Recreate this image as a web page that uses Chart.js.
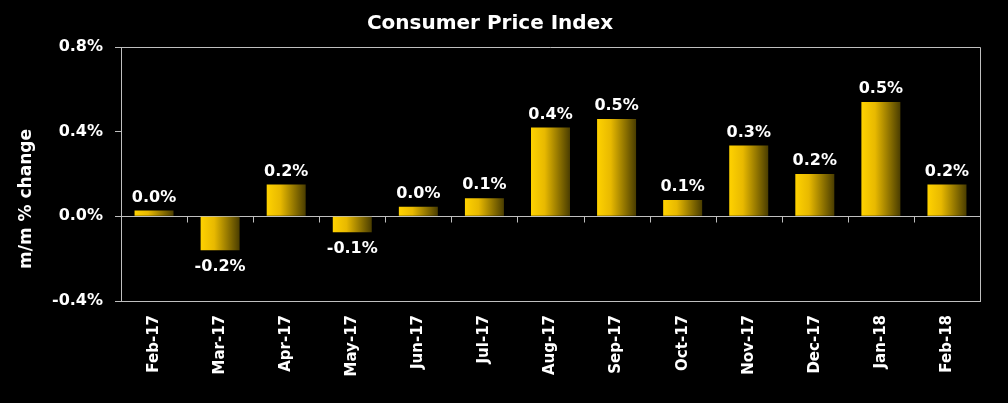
<!DOCTYPE html>
<html>
<head>
<meta charset="utf-8">
<script src="https://cdn.jsdelivr.net/npm/chart.js@4/dist/chart.umd.min.js"></script>
<style>
  html, body { margin: 0; padding: 0; background: #000; }
  #wrap { width: 1008px; height: 403px; }
</style>
</head>
<body>
<div id="wrap"><canvas id="cpi"></canvas></div>
<script>
const months = ['Feb-17', 'Mar-17', 'Apr-17', 'May-17', 'Jun-17', 'Jul-17', 'Aug-17',
                'Sep-17', 'Oct-17', 'Nov-17', 'Dec-17', 'Jan-18', 'Feb-18'];
const cpiChange = [0.028, -0.16, 0.15, -0.075, 0.045, 0.085, 0.42, 0.46, 0.077, 0.335, 0.20, 0.54, 0.15];
const barLabels = ['0.0%', '-0.2%', '0.2%', '-0.1%', '0.0%', '0.1%', '0.4%', '0.5%', '0.1%', '0.3%', '0.2%', '0.5%', '0.2%'];
const yTicks = [-0.4, 0.0, 0.4, 0.8];

const FONT = '"DejaVu Sans", sans-serif';
const LINE = '#bfbfbf';
const BAR_PCT = 0.59;

// horizontal gold gradient for each bar, worked out from the category scale
function barGradient(ctx) {
    const chart = ctx.chart;
    const x = chart.scales.x;
    if (!x || ctx.dataIndex === undefined) return '#f5c400';
    const cx = x.getPixelForValue(ctx.dataIndex);
    const half = x.width / months.length * BAR_PCT / 2;
    if (!isFinite(cx) || !isFinite(half)) return '#f5c400';
    const g = chart.ctx.createLinearGradient(cx - half, 0, cx + half, 0);
    g.addColorStop(0, '#ffd200');
    g.addColorStop(0.35, '#e8b900');
    g.addColorStop(1, '#4a3d00');
    return g;
}

const framePlugin = {
    id: 'frame',
    beforeDatasetsDraw(chart) {
        const { ctx, chartArea: a, scales } = chart;
        ctx.save();
        ctx.strokeStyle = LINE;
        ctx.lineWidth = 1;
        ctx.beginPath();
        ctx.moveTo(a.left, a.top + 0.5);
        ctx.lineTo(a.right + 0.5, a.top + 0.5);
        ctx.lineTo(a.right + 0.5, a.bottom);
        ctx.stroke();
        // category tick marks hanging from the zero line
        const y0 = Math.round(scales.y.getPixelForValue(0)) + 0.5;
        const step = scales.x.width / months.length;
        ctx.beginPath();
        for (let i = 0; i <= months.length; i++) {
            const px = Math.round(scales.x.left + i * step) + 0.5;
            ctx.moveTo(px, y0);
            ctx.lineTo(px, y0 + 6);
        }
        ctx.stroke();
        ctx.restore();
    },
    afterDatasetsDraw(chart) {
        const { ctx } = chart;
        const meta = chart.getDatasetMeta(0);
        ctx.save();
        ctx.fillStyle = '#fff';
        ctx.font = 'bold 16px ' + FONT;
        ctx.textAlign = 'center';
        meta.data.forEach((bar, i) => {
            const v = cpiChange[i];
            if (v >= 0) {
                ctx.textBaseline = 'bottom';
                ctx.fillText(barLabels[i], bar.x, bar.y - 5);
            } else {
                ctx.textBaseline = 'top';
                ctx.fillText(barLabels[i], bar.x, bar.y + 9);
            }
        });
        // y axis title
        ctx.translate(27, 199);
        ctx.rotate(-Math.PI / 2);
        ctx.textBaseline = 'middle';
        ctx.font = 'bold 17px ' + FONT;
        ctx.fillText('m/m % change', 0, 0);
        ctx.restore();
    }
};

new Chart(document.getElementById('cpi'), {
    type: 'bar',
    data: {
        labels: months,
        datasets: [{
            data: cpiChange,
            backgroundColor: barGradient,
            borderWidth: 0,
            barPercentage: BAR_PCT,
            categoryPercentage: 1
        }]
    },
    options: {
        responsive: true,
        maintainAspectRatio: false,
        animation: false,
        layout: { padding: { left: 0, right: 28, top: 0, bottom: 0 } },
        plugins: {
            legend: { display: false },
            tooltip: { enabled: false },
            title: {
                display: true,
                text: 'Consumer Price Index',
                color: '#fff',
                font: { family: FONT, size: 20, weight: 'bold' },
                padding: { top: 12, bottom: 11 }
            }
        },
        scales: {
            x: {
                grid: { display: false, drawTicks: false },
                border: { display: true, color: LINE },
                ticks: {
                    color: '#fff',
                    font: { family: FONT, size: 15, weight: 'bold' },
                    minRotation: 90,
                    maxRotation: 90,
                    padding: 14,
                    autoSkip: false
                },
                afterFit(scale) { scale.height = 102; }
            },
            y: {
                min: yTicks[0],
                max: yTicks[yTicks.length - 1],
                afterBuildTicks(scale) { scale.ticks = yTicks.map(v => ({ value: v })); },
                grid: {
                    color: c => (c.tick && Math.abs(c.tick.value) < 1e-9) ? LINE : 'rgba(0,0,0,0)',
                    tickColor: LINE,
                    tickLength: 6
                },
                border: { display: true, color: LINE },
                ticks: {
                    color: '#fff',
                    font: { family: FONT, size: 16, weight: 'bold' },
                    padding: 12,
                    callback: v => (Math.round(v * 10) / 10).toFixed(1) + '%'
                },
                afterFit(scale) { scale.width = 121; }
            }
        }
    },
    plugins: [framePlugin]
});
</script>
</body>
</html>
